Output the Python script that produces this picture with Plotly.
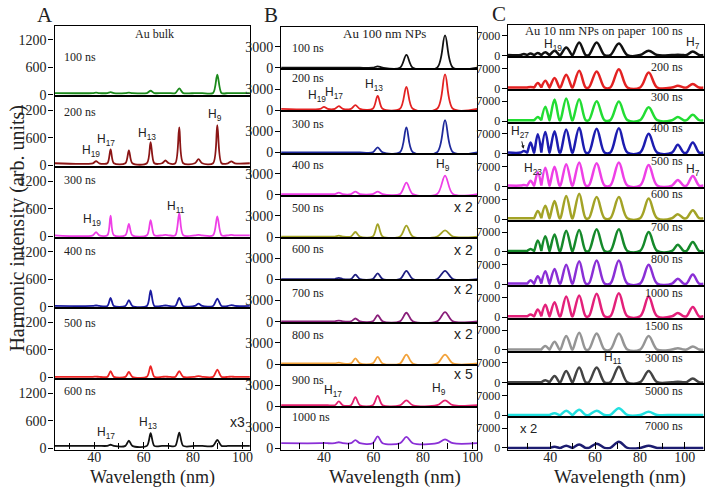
import plotly.graph_objects as go

W, H = 717, 497
SERIF = "Liberation Serif, Times New Roman, serif"
SANS = "Liberation Sans, Arial, sans-serif"


def px(x):
    return x / W


def py(y):
    return 1 - y / H


# ---------------- Column A : Au bulk ----------------
A_times = ["100 ns", "200 ns", "300 ns", "400 ns", "500 ns", "600 ns"]
A_colors = ["#1b8a1b", "#8b1515", "#ee3fe6", "#1c1ca0", "#ec2424", "#111111"]
# peak positions (nm): H19, H17, H15, H13, bump, H11, bump, H9, bump
A_peak_nm = [40.7, 46.6, 54.0, 62.8, 68.8, 74.4, 82.2, 89.8, 95.5]
A_half = [1.3, 1.3, 1.4, 1.5, 1.4, 1.6, 1.5, 1.7, 1.4]
A_heights = [
    [50, 60, 50, 90, 40, 140, 40, 440, 40],
    [95, 350, 330, 510, 110, 830, 140, 880, 90],
    [90, 445, 270, 350, 30, 500, 30, 430, 30],
    [30, 195, 145, 360, 30, 195, 70, 180, 40],
    [20, 137, 120, 245, 20, 137, 30, 173, 20],
    [50, 75, 166, 325, 50, 340, 50, 180, 50],
]
A_base = [40, 50, 20, 20, 15, 50]
A_yticks = [0, 600, 1200]
A_xrange = [23.9, 103.0]
A_yrange = [-30, 1506]

# ---------------- Column B : Au 100 nm NPs ----------------
B_times = ["100 ns", "200 ns", "300 ns", "400 ns", "500 ns",
           "600 ns", "700 ns", "800 ns", "900 ns", "1000 ns"]
B_colors = ["#111111", "#e32222", "#1f2a9c", "#ee3fe6", "#a3a326",
            "#1f1f80", "#8a1f7a", "#f2a23a", "#e3206e", "#8a2fd6"]
# peak positions (nm): H19, H17, H15, H13, H11, H9
B_peak_nm = [40.0, 46.0, 52.7, 61.7, 73.3, 88.9]
B_half = [1.5, 1.6, 1.8, 2.0, 2.6, 3.2]
B_heights = [
    [0, 0, 0, 230, 1840, 4600],
    [480, 580, 725, 2030, 3290, 5070],
    [0, 0, 0, 740, 3560, 4570],
    [0, 300, 450, 450, 1730, 2730],
    [0, 200, 720, 1840, 1620, 940],
    [0, 215, 670, 850, 1210, 1210],
    [0, 150, 450, 910, 1270, 1360],
    [0, 200, 790, 1010, 1340, 1340],
    [150, 690, 1300, 1480, 830, 830],
    [800, 900, 1200, 1740, 1660, 1300],
]
B_base = [30, 200, 30, 100, 80, 50, 50, 80, 150, 760]
B_yticks = [0, 3000]
B_xrange = [22.7, 102.0]
B_yrange = [-140, 5850]

# ---------------- Column C : Au 10 nm NPs on paper ----------------
C_times = ["100 ns", "200 ns", "300 ns", "400 ns", "500 ns", "600 ns", "700 ns",
           "800 ns", "1000 ns", "1500 ns", "3000 ns", "5000 ns", "7000 ns"]
C_colors = ["#111111", "#e32222", "#22dd33", "#1c1cb0", "#ee3fe6", "#a3a326",
            "#15892a", "#8a2fd6", "#e3207a", "#959595", "#444444", "#22e0e0",
            "#1c1c70"]
# peak positions (nm): H27, H25, H23, H21, H19, H17, H15, H13, H11, H9, ~97, H7
C_peak_nm = [28.2, 31.2, 34.4, 37.8, 41.9, 47.1, 52.9, 60.7, 70.6, 83.9, 96.9, 103.6]
C_half = [1.4, 1.5, 1.6, 1.8, 2.2, 2.6, 2.9, 3.5, 3.8, 3.8, 2.6, 2.8]
C_heights = [
    [600, 800, 930, 1170, 1750, 2900, 4700, 4700, 4300, 1750, 300, 1500],
    [300, 500, 1900, 2700, 3700, 4800, 6200, 6000, 6800, 5600, 930, 1500],
    [200, 300, 1400, 5100, 7600, 8000, 7700, 7000, 6900, 4900, 1400, 2200],
    [1000, 4000, 6900, 7700, 8000, 8600, 9200, 8900, 9000, 7100, 3150, 4000],
    [500, 2000, 5000, 6600, 7000, 7900, 8500, 8200, 8500, 7600, 2300, 3700],
    [200, 300, 2900, 4700, 6400, 8200, 9000, 7800, 7800, 7300, 1750, 3150],
    [300, 1000, 4000, 5500, 6100, 7500, 7700, 8000, 8000, 7000, 2500, 3500],
    [300, 1500, 2900, 4700, 5500, 7000, 8200, 8500, 8500, 7000, 2000, 3500],
    [300, 900, 2700, 4400, 5300, 7300, 7700, 8300, 8500, 7300, 1500, 3600],
    [100, 100, 100, 1400, 2900, 4900, 6100, 5800, 5800, 4900, 600, 1200],
    [100, 100, 100, 800, 2300, 4100, 5300, 5300, 5600, 4100, 300, 1400],
    [100, 100, 100, 100, 700, 1600, 1900, 1600, 2500, 1200, 100, 100],
    [0, 0, 0, 0, 400, 800, 1200, 1500, 2200, 800, 0, 0],
]
C_base = [200, 300, 300, 400, 300, 300, 300, 300, 300, 100, 100, 100, 0]
C_yticks = [0, 7000]
C_xrange = [21.0, 108.4]
C_yrange = [-600, 11000]

columns = [
    dict(times=A_times, colors=A_colors, peaks=A_peak_nm, half=A_half,
         heights=A_heights, base=A_base, yticks=A_yticks, xr=A_xrange,
         yr=A_yrange, x0=55, x1=252, top=26, bottom=456, lw=1.8,
         ytf=14, xtf=14, smooth=0.8),
    dict(times=B_times, colors=B_colors, peaks=B_peak_nm, half=B_half,
         heights=B_heights, base=B_base, yticks=B_yticks, xr=B_xrange,
         yr=B_yrange, x0=283.5, x1=481.5, top=27, bottom=456, lw=1.8,
         ytf=14, xtf=14, smooth=0.9),
    dict(times=C_times, colors=C_colors, peaks=C_peak_nm, half=C_half,
         heights=C_heights, base=C_base, yticks=C_yticks, xr=C_xrange,
         yr=C_yrange, x0=512, x1=709.5, top=25, bottom=456, lw=2.5,
         ytf=12, xtf=14, smooth=1.0),
]


def spectrum(peaks, half, heights, base, xr):
    xs, ys = [xr[0]], [base]
    for p, w, h in sorted(zip(peaks, half, heights)):
        xs += [p - w, p, p + w]
        ys += [base, max(h, base), base]
    xs.append(xr[1])
    ys.append(base)
    return xs, ys


fig = go.Figure()
layout = {}
k = 0
for col in columns:
    n = len(col["times"])
    ph = (col["bottom"] - col["top"]) / n
    for i in range(n):
        k += 1
        top = col["top"] + i * ph
        bot = top + ph
        last = i == n - 1
        xs, ys = spectrum(col["peaks"], col["half"], col["heights"][i],
                          col["base"][i], col["xr"])
        fig.add_trace(go.Scatter(
            x=xs, y=ys, mode="lines",
            line=dict(color=col["colors"][i], width=col["lw"],
                      shape="spline", smoothing=col["smooth"]),
            xaxis=f"x{k}", yaxis=f"y{k}", showlegend=False, hoverinfo="skip"))
        xa = dict(domain=[px(col["x0"]), px(col["x1"])], anchor=f"y{k}",
                  range=col["xr"], showline=True, mirror=True,
                  linecolor="black", linewidth=1.3, showgrid=False,
                  zeroline=False, showticklabels=last,
                  ticks="inside" if last else "", tick0=0, dtick=20,
                  ticklen=7, tickcolor="black",
                  tickfont=dict(family=SERIF, size=col["xtf"], color="#222"))
        if last:
            xa["minor"] = dict(ticks="inside", dtick=10, tick0=0, ticklen=6,
                               tickcolor="black")
            xa["ticklabelstandoff"] = -6
        ya = dict(domain=[py(bot), py(top)], anchor=f"x{k}", range=col["yr"],
                  showline=True, mirror=True, linecolor="black",
                  linewidth=1.3, showgrid=False, zeroline=False,
                  tickvals=col["yticks"], ticks="outside", ticklen=5,
                  tickcolor="black", ticklabelstandoff=-1,
                  tickfont=dict(family=SERIF, size=col["ytf"], color="#222"))
        layout[f"xaxis{k}"] = xa
        layout[f"yaxis{k}"] = ya

ann = []


def text(x, y, s, size=12, family=SERIF, xanchor="center", **kw):
    ann.append(dict(x=px(x), y=py(y), xref="paper", yref="paper", text=s,
                    showarrow=False, xanchor=xanchor, yanchor="middle",
                    font=dict(family=family, size=size, color="#222"), **kw))


# panel letters
text(45, 15, "A", 21)
text(273, 15, "B", 21)
text(503, 14, "C", 21)

# column titles
text(156, 34, "Au bulk", 12)
text(388, 34, "Au 100 nm NPs", 13)
text(590, 31, "Au 10 nm NPs on paper", 12.5)

# time labels
A_label_y = [58, 114, 183, 255, 328, 397]
for t, y in zip(A_times, A_label_y):
    text(63, y, t, 12, xanchor="left")
B_label_y = [49, 79, 126, 167, 211, 253, 297, 340, 385, 423]
for t, y in zip(B_times, B_label_y):
    text(292, y, t, 12, xanchor="left")
C_label_y = [31, 68, 98, 130, 163, 197, 230, 263, 297, 331, 363, 397, 432]
for t, y in zip(C_times, C_label_y):
    text(691, y, t, 12, xanchor="right")

# scale factors
text(240, 428, "x3", 14, SANS)
for y, s in [(210, "x 2"), (254, "x 2"), (293, "x 2"), (339, "x 2"), (379, "x 5")]:
    text(467, y, s, 14, SANS)
text(533, 435, "x 2", 13, SANS)

# harmonic labels
H_labels = [
    (92, 153, "19"), (107, 142, "17"), (148, 136, "13"), (217, 117, "9"),
    (93, 223, "19"), (177, 210, "11"),
    (107, 439, "17"), (149, 429, "13"),
    (320, 97, "19"), (337, 94, "17"), (377, 86, "13"), (447, 167, "9"),
    (336, 397, "17"), (443, 395, "9"),
    (558, 46, "19"), (699, 44, "7"), (537, 171, "23"), (699, 172, "7"),
    (618, 363, "11"),
]
for x, y, s in H_labels:
    text(x, y, f"H<sub>{s}</sub>", 12, SANS)

# H27 with arrow
ann.append(dict(x=px(528), y=py(151), xref="paper", yref="paper",
                text="H<sub>27</sub>", showarrow=True, arrowhead=2,
                arrowsize=0.7, arrowwidth=1, arrowcolor="#222", ax=-4, ay=-17,
                font=dict(family=SANS, size=12, color="#222")))

# axis titles
text(18, 231, "Harmonic intensity (arb. units)", 20, textangle=-90)
text(154, 484, "Wavelength (nm)", 18)
text(398, 484, "Wavelength (nm)", 19)
text(625, 484, "Wavelength (nm)", 19)

fig.update_layout(width=W, height=H, margin=dict(l=0, r=0, t=0, b=0),
                  paper_bgcolor="white", plot_bgcolor="white",
                  annotations=ann, **layout)
fig.write_html(
    "out.html",
    config={"displayModeBar": False},
    post_script=(
        "document.documentElement.style.margin='0px';"
        "document.documentElement.style.overflow='hidden';"
        "document.documentElement.style.height='497px';"
        "document.body.style.margin='0px';"
        "document.body.style.overflow='hidden';"
        "document.body.style.height='497px';"
    ),
)
